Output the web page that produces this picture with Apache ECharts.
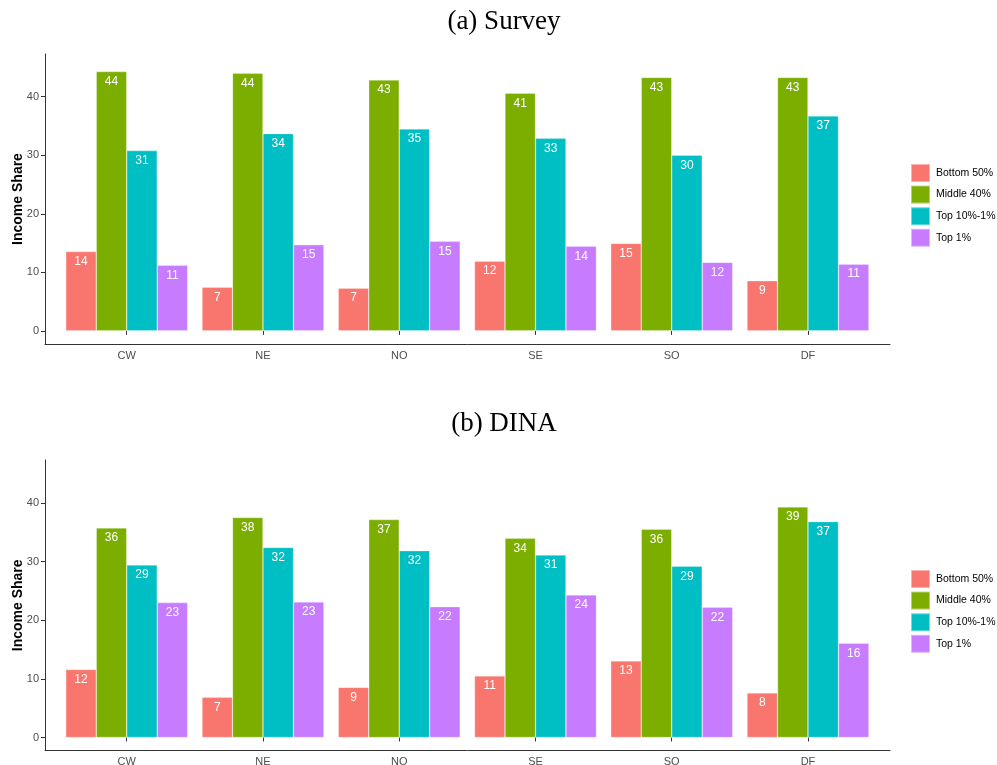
<!DOCTYPE html>
<html>
<head>
<meta charset="utf-8">
<title>Income Share by Region</title>
<script src="https://cdn.jsdelivr.net/npm/echarts@6/dist/echarts.min.js"></script>
<style>
  html, body { margin: 0; padding: 0; background: #fff; }
  #chart { width: 997px; height: 765px; }
</style>
</head>
<body>
<div id="chart"></div>
<script>
// Regions on the x axis and the four income groups
const categories = ['CW', 'NE', 'NO', 'SE', 'SO', 'DF'];
const groups = ['Bottom 50%', 'Middle 40%', 'Top 10%-1%', 'Top 1%'];
const groupColors = ['#F8766D', '#7CAE00', '#00BFC4', '#C77CFF'];
const yTicks = [0, 10, 20, 30, 40];

// (a) Survey
const surveyBottom50 = [13.55, 7.45, 7.3, 11.9, 14.95, 8.55];
const surveyMiddle40 = [44.3, 44.0, 42.85, 40.6, 43.3, 43.3];
const surveyTop10to1 = [30.8, 33.7, 34.5, 32.9, 30.0, 36.7];
const surveyTop1 = [11.2, 14.7, 15.3, 14.45, 11.7, 11.4];

// (b) DINA
const dinaBottom50 = [11.6, 6.85, 8.55, 10.5, 13.05, 7.6];
const dinaMiddle40 = [35.7, 37.5, 37.15, 33.95, 35.5, 39.3];
const dinaTop10to1 = [29.4, 32.4, 31.85, 31.1, 29.2, 36.8];
const dinaTop1 = [23.0, 23.1, 22.3, 24.3, 22.2, 16.07];

const panels = [
  { title: '(a) Survey', series: [surveyBottom50, surveyMiddle40, surveyTop10to1, surveyTop1],
    top: 54, height: 290, legendTop: 163, titleTop: 8 },
  { title: '(b) DINA', series: [dinaBottom50, dinaMiddle40, dinaTop10to1, dinaTop1],
    top: 460, height: 290.7, legendTop: 569, titleTop: 410 }
];

const sans = 'Liberation Sans, Arial, sans-serif';
const axisColor = '#333333';
const bandLeft = 58.6, bandWidth = 817.5;   // plotting band for the bars
const frameLeft = 45, frameWidth = 845;     // panel frame (axis lines)

const option = {
  animation: false,
  backgroundColor: '#ffffff',
  title: [], grid: [], xAxis: [], yAxis: [], legend: [], series: []
};

panels.forEach((p, i) => {
  const gBars = i * 2, gFrame = i * 2 + 1;

  option.title.push({
    text: p.title, left: 504, top: p.titleTop, textAlign: 'center', padding: 0,
    textStyle: { fontFamily: 'Liberation Serif, DejaVu Serif, serif', fontWeight: 'normal', fontSize: 27, color: '#000' }
  });

  option.grid.push({ left: bandLeft, width: bandWidth, top: p.top, height: p.height,
    containLabel: false, outerBoundsMode: 'none' });
  option.grid.push({ left: frameLeft, width: frameWidth, top: p.top, height: p.height,
    containLabel: false, outerBoundsMode: 'none' });

  // Category axis for the bars
  option.xAxis.push({
    type: 'category', gridIndex: gBars, data: categories,
    axisLine: { show: false },
    axisTick: { show: true, alignWithLabel: true, length: 4, lineStyle: { color: axisColor } },
    axisLabel: { color: '#4D4D4D', fontSize: 11, fontFamily: sans, margin: 6 },
    splitLine: { show: false }
  });
  // Full-width bottom axis line of the panel
  option.xAxis.push({
    type: 'value', gridIndex: gFrame, min: 0, max: 1,
    axisLine: { show: true, lineStyle: { color: axisColor, width: 1 } },
    axisTick: { show: false }, axisLabel: { show: false }, splitLine: { show: false }
  });

  option.yAxis.push({
    type: 'value', gridIndex: gBars, min: -2.25, max: 47.3, offset: bandLeft - frameLeft,
    name: 'Income Share', nameLocation: 'middle', nameGap: 20, nameRotate: 90,
    nameMoveOverlap: false,
    nameTextStyle: { fontFamily: sans, fontSize: 14, fontWeight: 'bold', color: '#000' },
    axisLine: { show: true, lineStyle: { color: axisColor, width: 1 } },
    axisTick: { show: true, length: 4, customValues: yTicks, lineStyle: { color: axisColor } },
    axisLabel: {
      color: '#4D4D4D', fontSize: 11, fontFamily: sans, margin: 6, customValues: yTicks,
      formatter: v => (yTicks.includes(v) ? String(v) : '')
    },
    splitLine: { show: false }
  });
  option.yAxis.push({
    type: 'value', gridIndex: gFrame, min: 0, max: 1, show: false
  });

  option.legend.push({
    orient: 'vertical', left: 910, top: p.legendTop, padding: 0,
    itemWidth: 19, itemHeight: 18, itemGap: 1.6, icon: 'rect',
    data: groups,
    textStyle: { fontFamily: sans, fontSize: 10.5, color: '#000', padding: [0, 0, 0, 1] }
  });

  groups.forEach((name, k) => {
    option.series.push({
      type: 'bar', name: name,
      xAxisIndex: gBars, yAxisIndex: gBars,
      data: p.series[k],
      barGap: '0%', barCategoryGap: '10.5%',
      itemStyle: { color: groupColors[k], borderColor: 'rgba(255,255,255,0.45)', borderWidth: 0.6 },
      label: {
        show: true, position: 'insideTop', distance: 4,
        color: '#ffffff', fontSize: 12, fontFamily: sans,
        formatter: d => String(Math.round(d.value))
      },
      emphasis: { disabled: true }
    });
  });
});

const chart = echarts.init(document.getElementById('chart'), null, { renderer: 'canvas' });
chart.setOption(option);
</script>
</body>
</html>
